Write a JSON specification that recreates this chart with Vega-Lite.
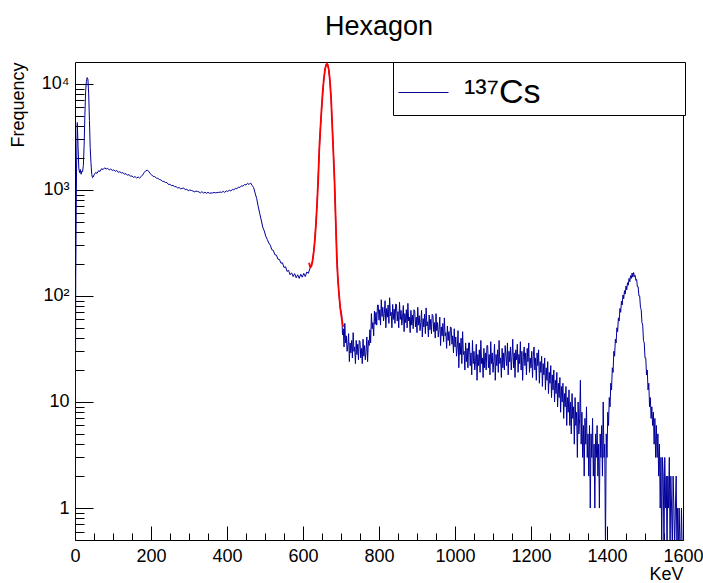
{
  "$schema": "https://vega.github.io/schema/vega-lite/v6.json",
  "autosize": "none",
  "padding": {"left": 75, "top": 62, "right": 20, "bottom": 43},
  "width": 608,
  "height": 478,
  "background": "white",
  "config": {
    "view": {"stroke": "#000", "strokeWidth": 1},
    "font": "Liberation Sans",
    "axis": {"grid": false, "domain": false, "tickColor": "#000", "labelFont": "Liberation Sans", "titleFont": "Liberation Sans", "labelColor": "#000", "titleColor": "#000", "titleFontWeight": "normal"}
  },
  "title": {"text": "Hexagon", "fontSize": 27, "font": "Liberation Sans", "fontWeight": "normal", "anchor": "middle", "frame": "group", "baseline": "alphabetic", "offset": 0, "color": "#000"},
  "datasets": {
    "spectrum": [
      {"e":0,"c":0.4},{"e":2,"c":150},{"e":4,"c":1500},{"e":6,"c":4300},{"e":8,"c":2600},{"e":10,"c":1600},{"e":12,"c":1450},{"e":14,"c":1550},{"e":16,"c":1400},{"e":18,"c":1500},{"e":20,"c":1480},{"e":22,"c":1700},{"e":24,"c":2600},{"e":26,"c":5000},{"e":28,"c":8500},{"e":30,"c":10500},{"e":32,"c":11400},{"e":34,"c":11000},{"e":36,"c":8000},{"e":38,"c":4500},{"e":40,"c":2500},{"e":42,"c":1800},{"e":44,"c":1400},{"e":46,"c":1300},{"e":48,"c":1320},{"e":50,"c":1380},
      {"e":54,"c":1450},{"e":58,"c":1430},{"e":62,"c":1510},{"e":66,"c":1490},{"e":70,"c":1580},{"e":74,"c":1550},{"e":78,"c":1610},{"e":82,"c":1570},{"e":86,"c":1590},{"e":90,"c":1540},{"e":94,"c":1570},{"e":98,"c":1520},{"e":102,"c":1540},{"e":106,"c":1490},{"e":110,"c":1520},{"e":114,"c":1460},{"e":118,"c":1480},{"e":122,"c":1440},{"e":126,"c":1450},{"e":130,"c":1400},{"e":134,"c":1420},{"e":138,"c":1370},{"e":142,"c":1390},{"e":146,"c":1340},{"e":150,"c":1350},{"e":154,"c":1310},{"e":158,"c":1330},{"e":162,"c":1290},{"e":166,"c":1320},{"e":170,"c":1290},{"e":174,"c":1330},{"e":178,"c":1380},{"e":182,"c":1450},{"e":186,"c":1510},{"e":190,"c":1530},{"e":194,"c":1490},{"e":198,"c":1420},
      {"e":202,"c":1380},{"e":206,"c":1330},{"e":210,"c":1330},{"e":214,"c":1290},{"e":218,"c":1280},{"e":222,"c":1250},{"e":226,"c":1240},{"e":230,"c":1200},{"e":234,"c":1200},{"e":238,"c":1170},{"e":242,"c":1170},{"e":246,"c":1120},{"e":250,"c":1130},{"e":254,"c":1090},{"e":258,"c":1100},{"e":262,"c":1070},{"e":266,"c":1070},{"e":270,"c":1040},{"e":274,"c":1050},{"e":278,"c":1020},{"e":282,"c":1030},{"e":286,"c":1040},{"e":290,"c":1000},{"e":294,"c":1010},{"e":298,"c":980},
      {"e":302,"c":995},{"e":306,"c":985},{"e":310,"c":975},{"e":314,"c":955},{"e":318,"c":970},{"e":322,"c":965},{"e":326,"c":955},{"e":330,"c":935},{"e":334,"c":960},{"e":338,"c":930},{"e":342,"c":950},{"e":346,"c":925},{"e":350,"c":945},{"e":354,"c":925},{"e":358,"c":935},{"e":362,"c":930},{"e":366,"c":945},{"e":370,"c":935},{"e":374,"c":940},{"e":378,"c":945},{"e":382,"c":950},{"e":386,"c":945},{"e":390,"c":965},{"e":394,"c":945},{"e":398,"c":975},
      {"e":402,"c":965},{"e":406,"c":990},{"e":410,"c":975},{"e":414,"c":1005},{"e":418,"c":1000},{"e":422,"c":1030},{"e":426,"c":1020},{"e":430,"c":1060},{"e":434,"c":1050},{"e":438,"c":1090},{"e":442,"c":1080},{"e":446,"c":1120},{"e":450,"c":1110},{"e":454,"c":1150},{"e":458,"c":1120},{"e":462,"c":1160},{"e":466,"c":1100},{"e":470,"c":1050},{"e":474,"c":930},{"e":478,"c":830},{"e":482,"c":700},{"e":486,"c":600},{"e":490,"c":520},{"e":494,"c":445},{"e":498,"c":410},
      {"e":502,"c":365},{"e":506,"c":340},{"e":510,"c":315},{"e":514,"c":300},{"e":518,"c":272},{"e":522,"c":268},{"e":526,"c":244},{"e":530,"c":242},{"e":534,"c":222},{"e":538,"c":220},{"e":542,"c":203},{"e":546,"c":205},{"e":550,"c":185},{"e":554,"c":188},{"e":558,"c":170},{"e":562,"c":174},{"e":566,"c":158},{"e":570,"c":165},{"e":574,"c":152},{"e":578,"c":162},{"e":582,"c":148},{"e":586,"c":158},{"e":590,"c":146},{"e":594,"c":160},{"e":598,"c":150},
      {"e":602,"c":163},{"e":606,"c":152},{"e":610,"c":168},{"e":614,"c":163},{"e":618,"c":180},{"e":622,"c":190},{"e":626,"c":225},{"e":630,"c":300},{"e":634,"c":470},{"e":638,"c":880},{"e":642,"c":2000},{"e":646,"c":3900},{"e":650,"c":6500},{"e":654,"c":10200},{"e":658,"c":13700},{"e":662,"c":15300},{"e":666,"c":14700},{"e":670,"c":11500},{"e":674,"c":7200},{"e":678,"c":3400},{"e":682,"c":1500},{"e":686,"c":520},{"e":690,"c":185},{"e":694,"c":110},{"e":698,"c":77},
      {"e":702,"c":67},{"e":704,"c":43},{"e":706,"c":49},{"e":708,"c":33},{"e":710,"c":55},{"e":712,"c":36},{"e":714,"c":42},{"e":716,"c":30},{"e":718,"c":34},{"e":720,"c":44},{"e":722,"c":24},{"e":724,"c":36},{"e":726,"c":29},{"e":728,"c":38},{"e":730,"c":26},{"e":732,"c":45},{"e":734,"c":30},{"e":736,"c":33},{"e":738,"c":23},{"e":740,"c":38},{"e":742,"c":28},{"e":744,"c":35},{"e":746,"c":25},{"e":748,"c":38},{"e":750,"c":37},
      {"e":752,"c":26},{"e":754,"c":32},{"e":756,"c":23},{"e":758,"c":39},{"e":760,"c":27},{"e":762,"c":34},{"e":764,"c":25},{"e":766,"c":30},{"e":768,"c":41},{"e":770,"c":24},{"e":772,"c":38},{"e":774,"c":34},{"e":776,"c":48},{"e":778,"c":36},{"e":780,"c":68},{"e":782,"c":49},{"e":784,"c":56},{"e":786,"c":42},{"e":788,"c":72},{"e":790,"c":54},{"e":792,"c":70},{"e":794,"c":53},{"e":796,"c":82},{"e":798,"c":82},{"e":800,"c":59},
      {"e":802,"c":74},{"e":804,"c":53},{"e":806,"c":92},{"e":808,"c":64},{"e":810,"c":78},{"e":812,"c":58},{"e":814,"c":68},{"e":816,"c":90},{"e":818,"c":50},{"e":820,"c":76},{"e":822,"c":63},{"e":824,"c":82},{"e":826,"c":55},{"e":828,"c":96},{"e":830,"c":65},{"e":832,"c":70},{"e":834,"c":50},{"e":836,"c":83},{"e":838,"c":60},{"e":840,"c":75},{"e":842,"c":55},{"e":844,"c":84},{"e":846,"c":82},{"e":848,"c":58},{"e":850,"c":71},
      {"e":852,"c":50},{"e":854,"c":87},{"e":856,"c":60},{"e":858,"c":73},{"e":860,"c":53},{"e":862,"c":63},{"e":864,"c":81},{"e":866,"c":46},{"e":868,"c":68},{"e":870,"c":56},{"e":872,"c":74},{"e":874,"c":50},{"e":876,"c":85},{"e":878,"c":58},{"e":880,"c":63},{"e":882,"c":45},{"e":884,"c":73},{"e":886,"c":53},{"e":888,"c":66},{"e":890,"c":49},{"e":892,"c":74},{"e":894,"c":72},{"e":896,"c":51},{"e":898,"c":63},{"e":900,"c":45},
      {"e":902,"c":78},{"e":904,"c":53},{"e":906,"c":65},{"e":908,"c":47},{"e":910,"c":56},{"e":912,"c":73},{"e":914,"c":41},{"e":916,"c":61},{"e":918,"c":51},{"e":920,"c":67},{"e":922,"c":44},{"e":924,"c":77},{"e":926,"c":52},{"e":928,"c":57},{"e":930,"c":41},{"e":932,"c":66},{"e":934,"c":48},{"e":936,"c":60},{"e":938,"c":44},{"e":940,"c":67},{"e":942,"c":65},{"e":944,"c":46},{"e":946,"c":56},{"e":948,"c":40},{"e":950,"c":68},
      {"e":952,"c":47},{"e":954,"c":56},{"e":956,"c":41},{"e":958,"c":48},{"e":960,"c":63},{"e":962,"c":34},{"e":964,"c":51},{"e":966,"c":42},{"e":968,"c":55},{"e":970,"c":37},{"e":972,"c":62},{"e":974,"c":42},{"e":976,"c":45},{"e":978,"c":32},{"e":980,"c":52},{"e":982,"c":38},{"e":984,"c":46},{"e":986,"c":34},{"e":988,"c":51},{"e":990,"c":50},{"e":992,"c":35},{"e":994,"c":42},{"e":996,"c":29},{"e":998,"c":49},{"e":1000,"c":33},
      {"e":1002,"c":41},{"e":1004,"c":27},{"e":1006,"c":33},{"e":1008,"c":47},{"e":1010,"c":21},{"e":1012,"c":36},{"e":1014,"c":28},{"e":1016,"c":40},{"e":1018,"c":23},{"e":1020,"c":46},{"e":1022,"c":28},{"e":1024,"c":30},{"e":1026,"c":20},{"e":1028,"c":36},{"e":1030,"c":24},{"e":1032,"c":32},{"e":1034,"c":21},{"e":1036,"c":36},{"e":1038,"c":36},{"e":1040,"c":22},{"e":1042,"c":29},{"e":1044,"c":18},{"e":1046,"c":38},{"e":1048,"c":23},{"e":1050,"c":30},
      {"e":1052,"c":20},{"e":1054,"c":24},{"e":1056,"c":35},{"e":1058,"c":16},{"e":1060,"c":28},{"e":1062,"c":22},{"e":1064,"c":31},{"e":1066,"c":19},{"e":1068,"c":38},{"e":1070,"c":23},{"e":1072,"c":26},{"e":1074,"c":17},{"e":1076,"c":32},{"e":1078,"c":21},{"e":1080,"c":29},{"e":1082,"c":20},{"e":1084,"c":34},{"e":1086,"c":34},{"e":1088,"c":21},{"e":1090,"c":28},{"e":1092,"c":18},{"e":1094,"c":37},{"e":1096,"c":23},{"e":1098,"c":29},{"e":1100,"c":19},
      {"e":1102,"c":24},{"e":1104,"c":35},{"e":1106,"c":16},{"e":1108,"c":28},{"e":1110,"c":22},{"e":1112,"c":31},{"e":1114,"c":19},{"e":1116,"c":38},{"e":1118,"c":23},{"e":1120,"c":26},{"e":1122,"c":17},{"e":1124,"c":32},{"e":1126,"c":21},{"e":1128,"c":29},{"e":1130,"c":20},{"e":1132,"c":34},{"e":1134,"c":27},{"e":1136,"c":22},{"e":1138,"c":36},{"e":1140,"c":18},{"e":1142,"c":30},{"e":1144,"c":24},{"e":1146,"c":33},{"e":1148,"c":20},{"e":1150,"c":27},
      {"e":1152,"c":39},{"e":1154,"c":21},{"e":1156,"c":29},{"e":1158,"c":17},{"e":1160,"c":31},{"e":1162,"c":25},{"e":1164,"c":35},{"e":1166,"c":19},{"e":1168,"c":28},{"e":1170,"c":23},{"e":1172,"c":37},{"e":1174,"c":20},{"e":1176,"c":30},{"e":1178,"c":16},{"e":1180,"c":27},{"e":1182,"c":33},{"e":1184,"c":22},{"e":1186,"c":29},{"e":1188,"c":18},{"e":1190,"c":32},{"e":1192,"c":24},{"e":1194,"c":36},{"e":1196,"c":19},{"e":1198,"c":26},{"e":1200,"c":21},
      {"e":1202,"c":30},{"e":1204,"c":17},{"e":1206,"c":27},{"e":1208,"c":33},{"e":1210,"c":20},{"e":1212,"c":26},{"e":1214,"c":16},{"e":1216,"c":29},{"e":1218,"c":22},{"e":1220,"c":31},{"e":1222,"c":15},{"e":1224,"c":24},{"e":1226,"c":19},{"e":1228,"c":27},{"e":1230,"c":14},{"e":1232,"c":23},{"e":1234,"c":18},{"e":1236,"c":26},{"e":1238,"c":13},{"e":1240,"c":21},{"e":1242,"c":16},{"e":1244,"c":24},{"e":1246,"c":12},{"e":1248,"c":19},{"e":1250,"c":15},
      {"e":1252,"c":22},{"e":1254,"c":11},{"e":1256,"c":18},{"e":1258,"c":13},{"e":1260,"c":20},{"e":1262,"c":10},{"e":1264,"c":16},{"e":1266,"c":12},{"e":1268,"c":19},{"e":1270,"c":9},{"e":1272,"c":15},{"e":1274,"c":11},{"e":1276,"c":17},{"e":1278,"c":8},{"e":1280,"c":14},{"e":1282,"c":10},{"e":1284,"c":15},{"e":1286,"c":7},{"e":1288,"c":12},{"e":1290,"c":9},{"e":1292,"c":14},{"e":1294,"c":6},{"e":1296,"c":11},{"e":1298,"c":8},{"e":1300,"c":13},
      {"e":1302,"c":6},{"e":1304,"c":10},{"e":1306,"c":5},{"e":1308,"c":12},{"e":1310,"c":7},{"e":1312,"c":9},{"e":1314,"c":4},{"e":1316,"c":11},{"e":1318,"c":6},{"e":1320,"c":8},{"e":1322,"c":3},{"e":1324,"c":10},{"e":1326,"c":5},{"e":1328,"c":7},{"e":1330,"c":16},{"e":1332,"c":4},{"e":1334,"c":8},{"e":1336,"c":3},{"e":1338,"c":6},{"e":1340,"c":2},{"e":1342,"c":7},{"e":1344,"c":4},{"e":1346,"c":9},{"e":1348,"c":3},{"e":1350,"c":5},
      {"e":1352,"c":2},{"e":1354,"c":6},{"e":1356,"c":1},{"e":1358,"c":5},{"e":1360,"c":3},{"e":1362,"c":7},{"e":1364,"c":2},{"e":1366,"c":4},{"e":1368,"c":1},{"e":1370,"c":5},{"e":1372,"c":3},{"e":1374,"c":6},{"e":1376,"c":2},{"e":1378,"c":4},{"e":1380,"c":1},{"e":1382,"c":5},{"e":1384,"c":3},{"e":1386,"c":6},{"e":1388,"c":2},{"e":1390,"c":10},{"e":1392,"c":3},{"e":1394,"c":4},{"e":1396,"c":0.4},{"e":1398,"c":5},{"e":1400,"c":3},
      {"e":1402,"c":8},{"e":1404,"c":6},{"e":1406,"c":11},{"e":1408,"c":9},{"e":1410,"c":15},{"e":1412,"c":13},{"e":1414,"c":21},{"e":1416,"c":19},{"e":1418,"c":30},{"e":1420,"c":27},{"e":1422,"c":39},{"e":1424,"c":36},{"e":1426,"c":50},{"e":1428,"c":46},{"e":1430,"c":62},{"e":1432,"c":58},{"e":1434,"c":76},{"e":1436,"c":70},{"e":1438,"c":89},{"e":1440,"c":82},{"e":1442,"c":102},{"e":1444,"c":94},{"e":1446,"c":112},{"e":1448,"c":104},{"e":1450,"c":124},
      {"e":1452,"c":114},{"e":1454,"c":133},{"e":1456,"c":126},{"e":1458,"c":146},{"e":1460,"c":136},{"e":1462,"c":155},{"e":1464,"c":146},{"e":1466,"c":164},{"e":1468,"c":150},{"e":1470,"c":166},{"e":1472,"c":152},{"e":1474,"c":156},{"e":1476,"c":140},{"e":1478,"c":143},{"e":1480,"c":122},{"e":1482,"c":122},{"e":1484,"c":100},{"e":1486,"c":100},{"e":1488,"c":78},{"e":1490,"c":74},{"e":1492,"c":56},{"e":1494,"c":53},{"e":1496,"c":38},{"e":1498,"c":36},{"e":1500,"c":26},
      {"e":1502,"c":26},{"e":1504,"c":18},{"e":1506,"c":20},{"e":1508,"c":13},{"e":1510,"c":15},{"e":1512,"c":9},{"e":1514,"c":11},{"e":1516,"c":7},{"e":1518,"c":9},{"e":1520,"c":6},{"e":1522,"c":8},{"e":1524,"c":4},{"e":1526,"c":7},{"e":1528,"c":3},{"e":1530,"c":6},{"e":1532,"c":3},{"e":1534,"c":5},{"e":1536,"c":2},{"e":1538,"c":4},{"e":1540,"c":1},{"e":1542,"c":3},{"e":1544,"c":0.4},{"e":1546,"c":3},{"e":1548,"c":2},{"e":1550,"c":0.4},
      {"e":1552,"c":3},{"e":1554,"c":1},{"e":1556,"c":2},{"e":1558,"c":0.4},{"e":1560,"c":2},{"e":1562,"c":1},{"e":1564,"c":3},{"e":1566,"c":0.4},{"e":1568,"c":2},{"e":1570,"c":1},{"e":1572,"c":0.4},{"e":1574,"c":2},{"e":1576,"c":1},{"e":1578,"c":0.4},{"e":1580,"c":1},{"e":1582,"c":2},{"e":1584,"c":0.4},{"e":1586,"c":1},{"e":1588,"c":0.4},{"e":1590,"c":1},{"e":1592,"c":0.4},{"e":1594,"c":0.4},{"e":1596,"c":1},{"e":1598,"c":0.4},{"e":1600,"c":0.4}
    ],
    "fit": [
      {"e":616,"c":205},{"e":619,"c":186},{"e":622,"c":190},{"e":625,"c":212},{"e":628,"c":255},{"e":631,"c":330},{"e":634,"c":470},{"e":637,"c":730},{"e":640,"c":1250},{"e":643,"c":2500},{"e":646,"c":3900},{"e":649,"c":5900},{"e":652,"c":8500},{"e":655,"c":11200},{"e":658,"c":13700},{"e":661,"c":15100},{"e":663,"c":15400},{"e":665,"c":15100},{"e":668,"c":13500},{"e":671,"c":10500},{"e":674,"c":7200},{"e":677,"c":3900},{"e":680,"c":2200},{"e":683,"c":1200},{"e":686,"c":520},{"e":689,"c":230},{"e":692,"c":140},{"e":695,"c":102},{"e":698,"c":77},{"e":701,"c":64},{"e":704,"c":55},{"e":706,"c":51}
    ]
  },
  "layer": [
    {
      "data": {"name": "spectrum"},
      "mark": {"type": "line", "strokeWidth": 1, "clip": true},
      "encoding": {
        "x": {"field": "e", "type": "quantitative", "scale": {"domain": [0, 1600], "nice": false, "zero": false},
          "axis": {"orient": "bottom", "values": [0, 200, 400, 600, 800, 1000, 1200, 1400, 1600], "format": "d", "labelFlush": false, "labelOverlap": false, "tickSize": -14, "labelFontSize": 18, "labelPadding": 21, "title": "KeV", "titleFontSize": 18, "titleAnchor": "end", "titlePadding": 0}},
        "y": {"field": "c", "type": "quantitative", "scale": {"type": "log", "domain": [0.5, 16000], "nice": false},
          "axis": {"orient": "left", "values": [1, 10, 100, 1000, 10000], "tickSize": -18, "labelFontSize": 18, "labelPadding": 24,
            "labelExpr": "datum.value == 10000 ? '10⁴' : datum.value == 1000 ? '10³' : datum.value == 100 ? '10²' : datum.label",
            "title": "Frequency", "titleFontSize": 18, "titleAnchor": "end", "titlePadding": 14}},
        "color": {"datum": "¹³⁷Cs", "type": "nominal", "scale": {"range": ["#000099"]},
          "legend": {"orient": "none", "legendX": 318, "legendY": 0, "title": null, "symbolType": "stroke", "symbolSize": 2500, "symbolStrokeWidth": 1, "labelFontSize": 34, "labelFont": "Liberation Sans", "labelColor": "#000", "labelOffset": 15, "labelLimit": 600, "padding": 5, "strokeColor": "#000", "fillColor": "#fff",
            "labelExpr": "datum.label + '\u2009\u2009\u2800\u2800\u2800\u2800\u2800'"}}
      }
    },
    {
      "data": {"name": "fit"},
      "mark": {"type": "line", "strokeWidth": 1.8, "color": "#ff0000", "clip": true},
      "encoding": {
        "x": {"field": "e", "type": "quantitative",
          "axis": {"orient": "bottom", "values": [50, 100, 150, 250, 300, 350, 450, 500, 550, 650, 700, 750, 850, 900, 950, 1050, 1100, 1150, 1250, 1300, 1350, 1450, 1500, 1550], "tickSize": -7, "labels": false, "title": null}},
        "y": {"field": "c", "type": "quantitative",
          "axis": {"orient": "left", "values": [0.6, 0.7, 0.8, 0.9, 2, 3, 4, 5, 6, 7, 8, 9, 20, 30, 40, 50, 60, 70, 80, 90, 200, 300, 400, 500, 600, 700, 800, 900, 2000, 3000, 4000, 5000, 6000, 7000, 8000, 9000], "tickSize": -9, "labels": false, "title": null}}
      }
    }
  ],
  "resolve": {"axis": {"x": "independent", "y": "independent"}}
}
